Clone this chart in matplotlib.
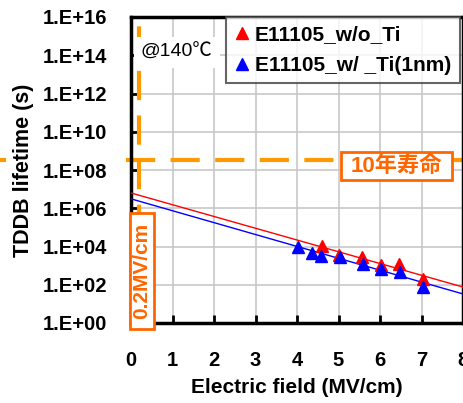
import math
import matplotlib
matplotlib.use("Agg")
import matplotlib.pyplot as plt
from matplotlib.lines import Line2D
from matplotlib.patches import Rectangle
from matplotlib.ticker import FixedLocator, FuncFormatter

plt.rcParams["font.family"] = ["Liberation Sans", "Noto Sans CJK JP", "DejaVu Sans"]

# measured points (field in MV/cm, lifetime in s)
red_field = [4.6, 5.02, 5.57, 6.02, 6.46, 7.03]
red_life = [1.1e4, 3.6e3, 2.95e3, 1.1e3, 1.25e3, 2.1e2]
blue_field = [4.02, 4.35, 4.57, 5.04, 5.58, 6.03, 6.47, 7.03]
blue_life = [9.8e3, 4.8e3, 3.2e3, 2.75e3, 1.25e3, 7.0e2, 4.9e2, 7.4e1]

# extrapolated fit lines
fit_field = [0, 8]
red_fit = [6.3e6, 7.6e1]
blue_fit = [3.1e6, 3.3e1]

ten_years = 3.15e8
field_limit = 0.2
labels_legend = ["E11105_w/o_Ti", "E11105_w/ _Ti(1nm)"]

W, H = 464, 403
fig = plt.figure(figsize=(W / 100, H / 100), dpi=100)
ax = fig.add_axes([131 / W, 1 - 323 / H, 332 / W, 306 / H])

ax.plot(fit_field, red_fit, color="red", lw=1, zorder=3)
ax.plot(fit_field, blue_fit, color="blue", lw=1, zorder=3)
ax.plot(red_field, red_life, "^", color="red", ms=9, mec="red", zorder=4)
ax.plot(blue_field, blue_life, "^", color="blue", ms=9, mec="blue", zorder=5)

ax.set_yscale("log")
ax.set_ylim(1, 1e16)
ax.set_xlim(0, 8)
ax.yaxis.set_major_locator(FixedLocator([10.0 ** k for k in range(0, 17, 2)]))
ax.yaxis.set_minor_locator(FixedLocator([]))
ax.yaxis.set_major_formatter(FuncFormatter(lambda v, p: "1.E+%02d" % round(math.log10(v))))
ax.set_xticks(range(0, 9))
ax.grid(True, color="#c8c8c8", lw=1.2)
ax.set_axisbelow(True)
ax.tick_params(direction="in", length=6, width=2, labelsize=14.5)
ax.tick_params(axis="y", pad=17)
ax.tick_params(axis="x", pad=20)
for lbl in ax.get_xticklabels() + ax.get_yticklabels():
    lbl.set_fontweight("bold")
for s in ax.spines.values():
    s.set_linewidth(2.5)

ax.set_xlabel("Electric field (MV/cm)", fontsize=15, fontweight="bold", labelpad=6)
ax.set_ylabel("TDDB lifetime (s)", fontsize=15.5, fontweight="bold", labelpad=6.5)

orange = "#ff9900"
# 10 years line across figure
ax.axhline(ten_years, color=orange, lw=3, dashes=(7, 3.7), zorder=2, clip_on=False,
           xmin=-0.015, xmax=1.01)
fig.add_artist(Line2D([0, 4 / W], [1 - 160 / H] * 2, color=orange, lw=3))
ax.axvline(field_limit, color=orange, lw=3, dashes=(7, 3.7), zorder=2, clip_on=False,
           ymin=0, ymax=1.02)

ax.text(0.03, 0.885, "@140\u2103", transform=ax.transAxes, fontsize=14,
        va="center", ha="left", bbox=dict(fc="white", ec="none", pad=5), zorder=6)

box_orange = "#ff6600"
fig.add_artist(Rectangle((341 / W, 1 - 180 / H), 111 / W, 28 / H, transform=fig.transFigure,
                         fc="white", ec=box_orange, lw=2, zorder=8))
fig.text(396 / W, 1 - 166 / H, "10年寿命", color=box_orange, fontsize=16,
         fontweight="bold", ha="center", va="center", zorder=9)
fig.add_artist(Rectangle((130 / W, 1 - 329 / H), 24 / W, 116 / H, transform=fig.transFigure,
                         fc="white", ec=box_orange, lw=2, zorder=8))
fig.text(142 / W, 1 - 271 / H, "0.2MV/cm", color=box_orange, fontsize=15,
         fontweight="bold", ha="center", va="center", rotation=90, zorder=9)

handles = [Line2D([], [], ls="none", marker="^", color="red", ms=8),
           Line2D([], [], ls="none", marker="^", color="blue", ms=8)]
leg = ax.legend(handles, labels_legend, loc="upper right", bbox_to_anchor=(0.99, 1.0),
                frameon=True, fancybox=False, prop={"weight": "bold", "size": 15},
                handlelength=0.7, handletextpad=0.3, borderpad=0.4, labelspacing=0.55,
                borderaxespad=0)
leg.get_frame().set_edgecolor("#404040")
leg.get_frame().set_linewidth(1.5)
leg.set_zorder(7)

fig.savefig("out.png", dpi=100)
